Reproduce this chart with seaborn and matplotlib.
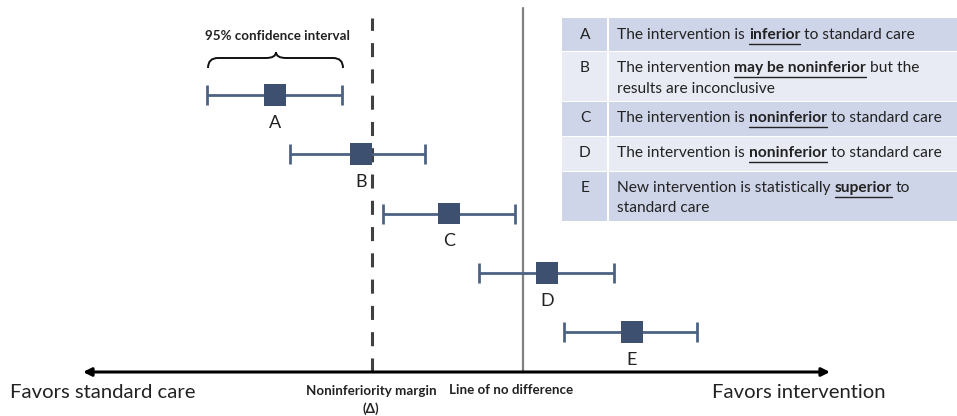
import numpy as np
import pandas as pd
import matplotlib
matplotlib.use('Agg')
import matplotlib.pyplot as plt
import seaborn as sns
from matplotlib.patches import Rectangle, PathPatch
from matplotlib.path import Path

# --- data (effect difference, line of no difference = 0, margin = -1) ---
labels = ['A', 'B', 'C', 'D', 'E']
estimate = [-1.64, -1.07, -0.49, 0.16, 0.72]
ci_low = [-2.09, -1.54, -0.93, -0.29, 0.27]
ci_high = [-1.20, -0.65, -0.05, 0.60, 1.15]
margin = -1.0
no_diff = 0.0

table_rows = [
    ('A', [[("The intervention is ", False), ("inferior", True), (" to standard care", False)]]),
    ('B', [[("The intervention ", False), ("may be noninferior", True), (" but the", False)],
           [("results are inconclusive", False)]]),
    ('C', [[("The intervention is ", False), ("noninferior", True), (" to standard care", False)]]),
    ('D', [[("The intervention is ", False), ("noninferior", True), (" to standard care", False)]]),
    ('E', [[("New intervention is statistically ", False), ("superior", True), (" to", False)],
           [("standard care", False)]]),
]

df = pd.DataFrame({'label': labels, 'est': estimate, 'lo': ci_low, 'hi': ci_high})
df['row'] = np.arange(len(df))

sns.set_theme(style='white')
plt.rcParams['font.family'] = ['Lato', 'DejaVu Sans']

BAR = '#4d6283'
SQ = '#3e5070'
TXT = '#222222'
W, H = 957, 416

fig = plt.figure(figsize=(9.57, 4.16), dpi=100)
ax = fig.add_axes([0, 0, 1, 1])
ov = fig.add_axes([0, 0, 1, 1], zorder=3)
ov.set_xlim(0, W)
ov.set_ylim(H, 0)
ov.axis('off')
ov.patch.set_alpha(0)

# data axes: 151 px per unit, zero at x=523 px; row spacing ~59 px, row 0 at y=95 px
ax.set_xlim(-523 / 151, (W - 523) / 151)
ax.set_ylim((H - 95) / 59.25, -95 / 59.25)
ax.axis('off')

# reference lines
top_solid = 1 - 8 / H
top_dash = 1 - 18 / H
bottom = 1 - 372 / H
ax.axvline(no_diff, ymin=bottom, ymax=top_solid, color='#808080', lw=1.6, zorder=1)
ax.axvline(margin, ymin=bottom, ymax=top_dash, color='#404040', lw=2.2,
           dashes=(4.6, 4.0), zorder=1)

# confidence intervals
ax.errorbar(df['est'], df['row'],
            xerr=[df['est'] - df['lo'], df['hi'] - df['est']],
            fmt='none', ecolor=BAR, elinewidth=2.0, capsize=7.5, capthick=2.0, zorder=2)
sns.scatterplot(data=df, x='est', y='row', marker='s', s=250, color=SQ,
                edgecolor='none', ax=ax, zorder=3, legend=False)
for _, r in df.iterrows():
    ax.text(r['est'], r['row'] + 0.47, r['label'], ha='center', va='center',
            fontsize=13, color=TXT)

# axis arrow
ov.annotate('', xy=(830, 372), xytext=(83, 372),
            arrowprops=dict(arrowstyle='<|-|>', color='black', lw=2.2,
                            mutation_scale=12, shrinkA=0, shrinkB=0))
ov.text(10, 393, 'Favors standard care', ha='left', va='center', fontsize=14.6, color=TXT)
ov.text(712, 393, 'Favors intervention', ha='left', va='center', fontsize=14.6, color=TXT)
ov.text(371, 391, 'Noninferiority margin', ha='center', va='center', fontsize=9.6,
        fontweight='bold', color=TXT)
ov.text(371, 409, '(Δ)', ha='center', va='center', fontsize=9.6,
        fontweight='bold', color=TXT)
ov.text(511, 390, 'Line of no difference', ha='center', va='center', fontsize=9.6,
        fontweight='bold', color=TXT)

# brace over interval A
verts = [(208, 68), (208, 58), (218, 58), (266, 58),
         (276, 58), (276, 52), (276, 52),
         (276, 52), (276, 58), (286, 58),
         (333, 58), (343, 58), (343, 68)]
codes = [Path.MOVETO, Path.CURVE3, Path.CURVE3, Path.LINETO,
         Path.CURVE3, Path.CURVE3, Path.LINETO,
         Path.MOVETO, Path.CURVE3, Path.CURVE3,
         Path.LINETO, Path.CURVE3, Path.CURVE3]
ov.add_patch(PathPatch(Path(verts, codes), fill=False, lw=1.4, color='#111111'))
ov.text(277, 36, '95% confidence interval', ha='center', va='center', fontsize=9.6,
        fontweight='bold', color=TXT)

# table
row_edges = [18, 52, 102, 137, 172, 222]
fills = ['#cfd5e9', '#e8ebf4', '#cfd5e9', '#e8ebf4', '#cfd5e9']
x0, xdiv, x1 = 562, 608, 957
for i in range(5):
    y0, y1 = row_edges[i], row_edges[i + 1]
    ov.add_patch(Rectangle((x0, y0), xdiv - x0 - 1, y1 - y0 - 1.5, color=fills[i], lw=0))
    ov.add_patch(Rectangle((xdiv + 1, y0), x1 - xdiv - 1, y1 - y0 - 1.5, color=fills[i], lw=0))

fig.canvas.draw()
rend = fig.canvas.get_renderer()
TS = 11.2


def width_px(s, bold):
    t = ov.text(0, 0, s, fontsize=TS, fontweight='bold' if bold else 'normal')
    w = t.get_window_extent(rend).width
    t.remove()
    return w


sp = width_px('x x', False) - width_px('xx', False)


def rich_line(x, y, runs):
    for s, bold in runs:
        if s.startswith(' '):
            x += sp
        core = s.strip()
        t = ov.text(x, y, core, ha='left', va='center', fontsize=TS,
                    fontweight='bold' if bold else 'normal', color=TXT)
        wpx = t.get_window_extent(rend).width
        if bold:
            ov.plot([x, x + wpx], [y + 8.5, y + 8.5], color=TXT, lw=1.0)
        x += wpx
        if s.endswith(' '):
            x += sp


line_y = {'A': [35], 'B': [68, 89], 'C': [118], 'D': [153], 'E': [188, 208]}
for letter, lines in table_rows:
    ys = line_y[letter]
    ov.text(585, ys[0], letter, ha='center', va='center', fontsize=TS, color=TXT)
    for ly, runs in zip(ys, lines):
        rich_line(617, ly, runs)

fig.savefig('out.png', dpi=100)
